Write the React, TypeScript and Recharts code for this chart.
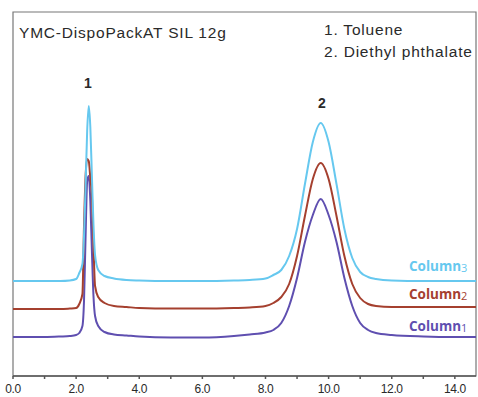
import React from 'react';
import { LineChart, Line, XAxis, YAxis, ReferenceArea } from 'recharts';

// retention time (min)
const TIME = [
  0, 0.5, 1.0, 1.5, 1.8, 2.0, 2.1, 2.2, 2.25, 2.3, 2.35, 2.4, 2.45, 2.5, 2.55,
  2.6, 2.7, 2.9, 3.2, 3.6, 4.0, 5.0, 6.0, 7.0, 7.5, 8.0, 8.25, 8.5, 8.75, 9.0,
  9.25, 9.5, 9.75, 10.0, 10.25, 10.5, 10.75, 11.0, 11.25, 11.5, 12.0, 13.0, 14.0, 14.67,
];

// detector signal (offset traces)
const COLUMN1 = [
  39, 39, 39, 39.5, 40, 41, 43, 50, 75, 140, 195, 200, 175, 125, 80,
  60, 50, 44, 41.5, 40.5, 39.5, 38.5, 38.5, 40, 41.5, 43.5, 46, 53, 70, 98,
  134, 161, 177, 161, 134, 98, 70, 53, 46, 43, 41, 39.5, 39, 39,
];
const COLUMN2 = [
  67, 67, 67, 67, 67.5, 68, 72, 82, 150, 200, 217, 215, 198, 180, 130,
  90, 79, 73, 70, 69, 68, 67.5, 67.5, 68, 68.5, 70, 73, 79, 92, 120,
  160, 197, 213, 197, 160, 120, 92, 78, 72, 70, 69, 69, 69, 69,
];
const COLUMN3 = [
  95, 95, 95, 95, 95.5, 97, 103, 112, 140, 190, 245, 270, 249, 200, 151,
  121, 106, 100, 97.5, 96, 95.5, 95, 95, 95.5, 96, 97.5, 101, 106, 120, 147,
  192, 234, 253, 234, 192, 147, 118, 104, 99, 97, 95.5, 95, 95, 95,
];

const X_TICKS = [0, 1, 2, 3, 4, 5, 6, 7, 8, 9, 10, 11, 12, 13, 14];

const BLUE = '#66c8ef';
const BROWN = '#a5402f';
const PURPLE = '#5f4fb0';
const INK = '#2a2a2a';

const data = TIME.map((t, i) => ({ t, c1: COLUMN1[i], c2: COLUMN2[i], c3: COLUMN3[i] }));

function Txt({ x, y, size = 15.5, color = INK, weight = 400, spacing = 0.8, children }: {
  x: number; y: number; size?: number; color?: string; weight?: number; spacing?: number; children: React.ReactNode;
}) {
  return (
    <div style={{
      position: 'absolute', left: x, top: y, fontSize: size, color, fontWeight: weight,
      letterSpacing: spacing, lineHeight: 1, whiteSpace: 'nowrap',
      fontFamily: 'Liberation Sans, Arial, sans-serif',
    }}>{children}</div>
  );
}

function ColLabel({ y, color, n }: { y: number; color: string; n: number }) {
  return (
    <div style={{
      position: 'absolute', left: 409, top: y, fontSize: 13.5, color, fontWeight: 700,
      lineHeight: 1, fontFamily: '"Open Sans", sans-serif', whiteSpace: 'nowrap',
    }}>
      Column<span style={{ fontSize: 11, fontWeight: 400, verticalAlign: '-1px' }}>{n}</span>
    </div>
  );
}

export default function App() {
  return (
    <div style={{ position: 'absolute', left: 0, top: 0, width: 478, height: 397, background: '#fff', overflow: 'hidden' }}>
      <LineChart width={478} height={397} data={data} margin={{ top: 12, right: 2, left: 13, bottom: 0 }}>
        <XAxis dataKey="t" type="number" domain={[0, 14.67]} ticks={X_TICKS} interval={0}
          height={21} tickSize={3} tickMargin={5}
          tickFormatter={v => (v % 2 === 0 ? Number(v).toFixed(1) : '')}
          tick={{ fontSize: 12, fill: INK, letterSpacing: -0.4, fontFamily: 'Liberation Sans, sans-serif' }}
          stroke="#555" strokeWidth={1.5} />
        <YAxis hide domain={[0, 364]} />
        <ReferenceArea x1={0} x2={14.67} y1={0} y2={364} fill="none" stroke="#777" strokeWidth={1.2} ifOverflow="visible" />
        <Line type="monotone" dataKey="c1" stroke={PURPLE} strokeWidth={2} dot={false} isAnimationActive={false} />
        <Line type="monotone" dataKey="c2" stroke={BROWN} strokeWidth={2} dot={false} isAnimationActive={false} />
        <Line type="monotone" dataKey="c3" stroke={BLUE} strokeWidth={2} dot={false} isAnimationActive={false} />
      </LineChart>
      <Txt x={19} y={25}>YMC-DispoPackAT SIL 12g</Txt>
      <Txt x={324} y={22}>1. Toluene</Txt>
      <Txt x={324} y={44}>2. Diethyl phthalate</Txt>
      <Txt x={84} y={76} size={14} weight={700} spacing={0}>1</Txt>
      <Txt x={318} y={96} size={14} weight={700} spacing={0}>2</Txt>
      <ColLabel y={260} color={BLUE} n={3} />
      <ColLabel y={288} color={BROWN} n={2} />
      <ColLabel y={320} color={PURPLE} n={1} />
    </div>
  );
}
